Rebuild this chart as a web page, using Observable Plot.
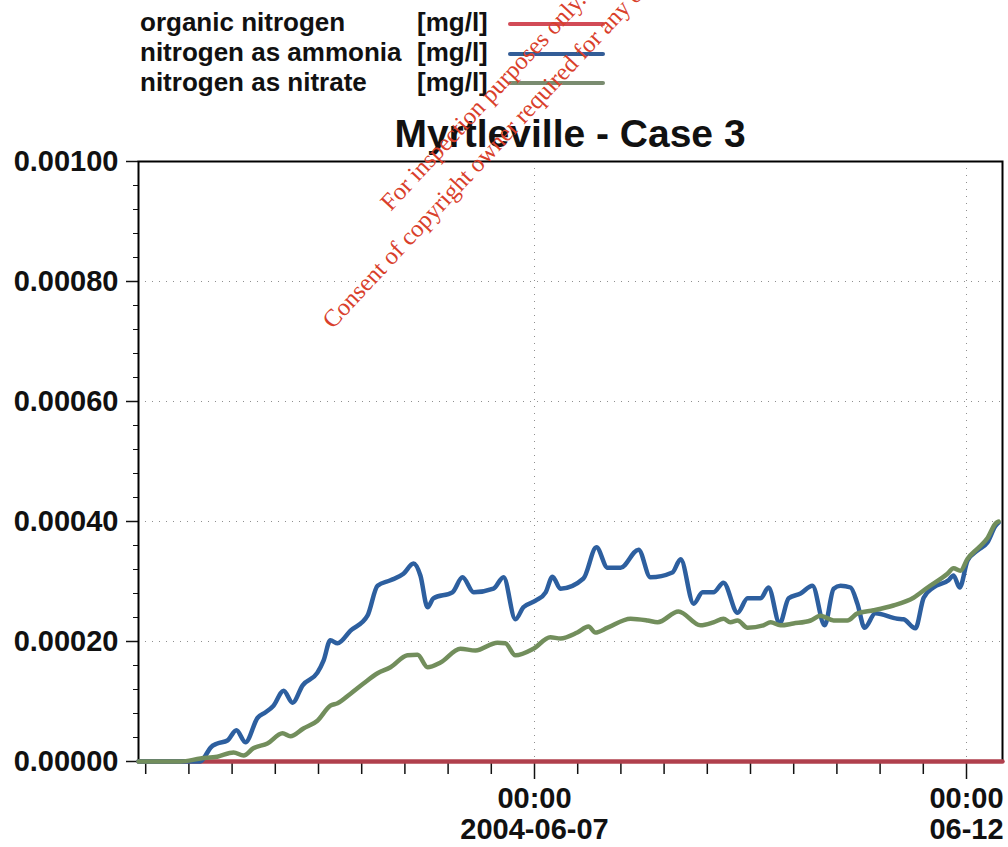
<!DOCTYPE html>
<html>
<head>
<meta charset="utf-8">
<script src="https://cdn.jsdelivr.net/npm/d3@7"></script>
<script src="https://cdn.jsdelivr.net/npm/@observablehq/plot@0.6"></script>
<style>
  body { margin: 0; background: #fff; font-family: "Liberation Sans", Arial, sans-serif; }
  #page { position: relative; width: 1008px; height: 847px; overflow: hidden; background: #fff; }
  #header { position: relative; height: 140px; }
  .lg { position: absolute; font-size: 26px; font-weight: bold; line-height: 30px; color: #111; white-space: nowrap; z-index: 2; }
  .sw { position: absolute; left: 508px; width: 97px; height: 4px; border-radius: 2px; z-index: 2; }
  #title { position: absolute; left: 0; width: 1140px; text-align: center; top: 114px; font-size: 39px; line-height: 39px; font-weight: bold; color: #111; z-index: 2; white-space: nowrap; }
  #chart svg { display: block; }
  #wm { position: absolute; left: 157px; top: 76px; width: 680px; height: 76px; text-align: center;
        font-family: "Liberation Serif", "DejaVu Serif", serif; font-size: 24.5px; line-height: 38px;
        color: #d9402b; transform: rotate(-47deg); z-index: 5; white-space: nowrap; }
</style>
</head>
<body>
<div id="page">
  <div id="header"></div>
  <div id="chart"></div>
  <div id="wm">For inspection purposes only.<br>Consent of copyright owner required for any other use.</div>
</div>
<script>
// ---- data ----
const titleText = "Myrtleville - Case 3";
const seriesNames = ["organic nitrogen", "nitrogen as ammonia", "nitrogen as nitrate"];
const seriesUnits = ["[mg/l]", "[mg/l]", "[mg/l]"];
const seriesColors = ["#b0404d", "#2d5f9f", "#728e5c"];
const legendColors = ["#d24b57", "#335d97", "#7a8c70"];

const organicTime = ["2004-06-02T10:00Z", "2004-06-12T10:00Z"];
const organicValue = [0, 0];

const ammoniaTime = [
  "2004-06-02T10:00Z","2004-06-03T03:12Z","2004-06-03T04:36Z","2004-06-03T06:00Z","2004-06-03T07:54Z",
  "2004-06-03T10:42Z","2004-06-03T13:12Z","2004-06-03T15:42Z","2004-06-03T19:06Z","2004-06-03T21:18Z",
  "2004-06-03T23:30Z","2004-06-04T02:18Z","2004-06-04T04:48Z","2004-06-04T07:36Z","2004-06-04T11:42Z",
  "2004-06-04T13:24Z","2004-06-04T15:18Z","2004-06-04T17:18Z","2004-06-04T20:54Z","2004-06-05T01:36Z",
  "2004-06-05T04:24Z","2004-06-05T08:00Z","2004-06-05T11:36Z","2004-06-05T14:24Z","2004-06-05T16:18Z",
  "2004-06-05T18:18Z","2004-06-05T19:54Z","2004-06-06T01:12Z","2004-06-06T04:00Z","2004-06-06T07:06Z",
  "2004-06-06T12:36Z","2004-06-06T15:24Z","2004-06-06T18:42Z","2004-06-06T20:54Z","2004-06-07T00:18Z",
  "2004-06-07T03:06Z","2004-06-07T05:00Z","2004-06-07T07:12Z","2004-06-07T13:36Z","2004-06-07T17:12Z",
  "2004-06-07T20:18Z","2004-06-07T23:54Z","2004-06-08T04:54Z","2004-06-08T08:12Z","2004-06-08T14:18Z",
  "2004-06-08T16:36Z","2004-06-08T20:12Z","2004-06-08T22:42Z","2004-06-09T01:42Z","2004-06-09T04:30Z",
  "2004-06-09T08:24Z","2004-06-09T11:12Z","2004-06-09T14:48Z","2004-06-09T17:00Z","2004-06-09T20:06Z",
  "2004-06-09T22:36Z","2004-06-10T01:54Z","2004-06-10T05:12Z","2004-06-10T08:36Z","2004-06-10T11:06Z",
  "2004-06-10T13:00Z","2004-06-10T15:48Z","2004-06-10T17:42Z","2004-06-10T19:42Z","2004-06-10T22:42Z",
  "2004-06-11T04:48Z","2004-06-11T06:30Z","2004-06-11T09:48Z","2004-06-11T12:06Z","2004-06-11T14:48Z",
  "2004-06-11T19:00Z","2004-06-11T20:24Z","2004-06-11T22:06Z","2004-06-12T00:18Z","2004-06-12T03:06Z",
  "2004-06-12T05:48Z","2004-06-12T08:06Z","2004-06-12T08:54Z"
];
const ammoniaValue = [
  0, 0, 0.000010, 0.000023, 0.000030,
  0.000035, 0.000052, 0.000032, 0.000073, 0.000082,
  0.000093, 0.000118, 0.000098, 0.000127, 0.000148,
  0.000168, 0.000202, 0.000197, 0.000218, 0.000243,
  0.000293, 0.000302, 0.000313, 0.000330, 0.000310,
  0.000257, 0.000272, 0.000282, 0.000307, 0.000282,
  0.000288, 0.000307, 0.000237, 0.000257, 0.000268,
  0.000282, 0.000308, 0.000288, 0.000305, 0.000357,
  0.000323, 0.000323, 0.000353, 0.000307, 0.000315,
  0.000337, 0.000263, 0.000282, 0.000282, 0.000298,
  0.000248, 0.000272, 0.000272, 0.000290, 0.000230,
  0.000272, 0.000280, 0.000293, 0.000227, 0.000288,
  0.000293, 0.000290, 0.000263, 0.000223, 0.000247,
  0.000238, 0.000237, 0.000222, 0.000273, 0.000290,
  0.000302, 0.000310, 0.000290, 0.000335, 0.000352,
  0.000365, 0.000393, 0.000398
];

const nitrateTime = [
  "2004-06-02T10:00Z","2004-06-02T21:42Z","2004-06-03T03:12Z","2004-06-03T07:54Z","2004-06-03T12:24Z",
  "2004-06-03T15:12Z","2004-06-03T17:54Z","2004-06-03T21:48Z","2004-06-04T02:00Z","2004-06-04T04:12Z",
  "2004-06-04T07:48Z","2004-06-04T11:42Z","2004-06-04T15:18Z","2004-06-04T17:18Z","2004-06-04T20:54Z",
  "2004-06-05T00:30Z","2004-06-05T04:24Z","2004-06-05T08:00Z","2004-06-05T12:42Z","2004-06-05T15:30Z",
  "2004-06-05T18:18Z","2004-06-05T21:54Z","2004-06-06T03:24Z","2004-06-06T07:36Z","2004-06-06T13:42Z",
  "2004-06-06T15:54Z","2004-06-06T18:42Z","2004-06-06T23:42Z","2004-06-07T04:24Z","2004-06-07T07:12Z",
  "2004-06-07T11:54Z","2004-06-07T15:00Z","2004-06-07T16:54Z","2004-06-07T20:18Z","2004-06-08T02:42Z",
  "2004-06-08T07:24Z","2004-06-08T10:12Z","2004-06-08T16:00Z","2004-06-08T22:06Z","2004-06-09T01:42Z",
  "2004-06-09T04:30Z","2004-06-09T06:24Z","2004-06-09T08:24Z","2004-06-09T11:12Z","2004-06-09T15:36Z",
  "2004-06-09T17:36Z","2004-06-09T20:18Z","2004-06-09T23:54Z","2004-06-10T04:42Z","2004-06-10T07:24Z",
  "2004-06-10T11:06Z","2004-06-10T14:54Z","2004-06-10T17:42Z","2004-06-10T22:12Z","2004-06-11T03:42Z",
  "2004-06-11T09:18Z","2004-06-11T13:12Z","2004-06-11T18:42Z","2004-06-11T20:24Z","2004-06-11T22:18Z",
  "2004-06-12T00:18Z","2004-06-12T03:06Z","2004-06-12T05:48Z","2004-06-12T08:06Z","2004-06-12T08:54Z"
];
const nitrateValue = [
  0, 0, 0.000005, 0.000008, 0.000015,
  0.000010, 0.000022, 0.000030, 0.000047, 0.000042,
  0.000055, 0.000068, 0.000093, 0.000097, 0.000113,
  0.000130, 0.000147, 0.000157, 0.000177, 0.000178,
  0.000157, 0.000165, 0.000188, 0.000185, 0.000198,
  0.000197, 0.000177, 0.000188, 0.000207, 0.000205,
  0.000215, 0.000225, 0.000215, 0.000223, 0.000238,
  0.000235, 0.000232, 0.000250, 0.000227, 0.000232,
  0.000238, 0.000232, 0.000235, 0.000223, 0.000227,
  0.000232, 0.000227, 0.000230, 0.000235, 0.000243,
  0.000235, 0.000235, 0.000247, 0.000252, 0.000260,
  0.000273, 0.000290, 0.000313, 0.000322, 0.000318,
  0.000338, 0.000355, 0.000372, 0.000397, 0.000400
];

const xDomain = ["2004-06-02T10:00Z", "2004-06-12T10:00Z"];
const xMajorTicks = ["2004-06-07T00:00Z", "2004-06-12T00:00Z"];
const xMajorLabels = ["00:00\n2004-06-07", "00:00\n06-12"];
const yMajorTicks = [0, 0.0002, 0.0004, 0.0006, 0.0008, 0.001];
const yGridTicks = [0.0002, 0.0004, 0.0006, 0.0008];

// ---- header (legend + title) ----
const header = document.getElementById("header");
seriesNames.forEach((name, i) => {
  const top = 7 + i * 30;
  const t = document.createElement("div");
  t.className = "lg"; t.style.left = "140px"; t.style.top = top + "px"; t.textContent = name;
  header.appendChild(t);
  const u = document.createElement("div");
  u.className = "lg"; u.style.left = "417px"; u.style.top = top + "px"; u.textContent = seriesUnits[i];
  header.appendChild(u);
  const s = document.createElement("div");
  s.className = "sw"; s.style.top = (22 + i * 29.5) + "px"; s.style.background = legendColors[i];
  header.appendChild(s);
});
const title = document.createElement("div");
title.id = "title"; title.textContent = titleText;
header.appendChild(title);

// ---- chart ----
const parse = s => new Date(s);
const organic = organicTime.map((t, i) => ({t: parse(t), v: organicValue[i]}));
const ammonia = ammoniaTime.map((t, i) => ({t: parse(t), v: ammoniaValue[i]}));
const nitrate = nitrateTime.map((t, i) => ({t: parse(t), v: nitrateValue[i]}));

const x0 = parse(xDomain[0]), x1 = parse(xDomain[1]);
const xMajor = xMajorTicks.map(parse);
const xMinor = d3.utcHour.every(12).range(x0, x1).filter(d => !xMajor.some(m => +m === +d));
const yMinor = d3.range(0, 0.00100001, 0.00004).filter(v => !yMajorTicks.some(m => Math.abs(m - v) < 1e-9));
const xLabel = d => { const i = xMajor.findIndex(m => +m === +d); return i >= 0 ? xMajorLabels[i] : ""; };

const dotted = {stroke: "#333", strokeOpacity: 0.55, strokeWidth: 1, strokeDasharray: "1,6"};

const plot = Plot.plot({
  width: 1008, height: 707,
  marginTop: 21, marginBottom: 86, marginLeft: 138, marginRight: 6,
  style: {fontFamily: '"Liberation Sans", Arial, sans-serif', fontSize: "29px", fontWeight: "bold",
          color: "#111", background: "transparent", overflow: "visible"},
  x: {type: "utc", domain: [x0, x1], label: null},
  y: {domain: [0, 0.001], label: null},
  marks: [
    Plot.gridY(yGridTicks, dotted),
    Plot.gridX(xMajor, dotted),
    Plot.axisY(yMinor, {tickSize: 5, tickFormat: () => "", strokeWidth: 1, label: null}),
    Plot.axisY(yMajorTicks, {tickSize: 12, tickPadding: 8, tickFormat: d => d.toFixed(5), strokeWidth: 1.5, label: null}),
    Plot.axisX(xMinor, {tickSize: 13, tickFormat: () => "", strokeWidth: 1.5, label: null}),
    Plot.axisX(xMajor, {tickSize: 18, tickPadding: 6, tickFormat: xLabel, lineHeight: 1.07, strokeWidth: 1.5, label: null}),
    Plot.frame({stroke: "#000", strokeWidth: 2}),
    Plot.line(organic, {x: "t", y: "v", stroke: seriesColors[0], strokeWidth: 4.5}),
    Plot.line(ammonia, {x: "t", y: "v", stroke: seriesColors[1], strokeWidth: 4.5, curve: "monotone-x", strokeLinejoin: "round"}),
    Plot.line(nitrate, {x: "t", y: "v", stroke: seriesColors[2], strokeWidth: 4.5, curve: "monotone-x", strokeLinejoin: "round"})
  ]
});
document.getElementById("chart").appendChild(plot);
</script>
</body>
</html>
